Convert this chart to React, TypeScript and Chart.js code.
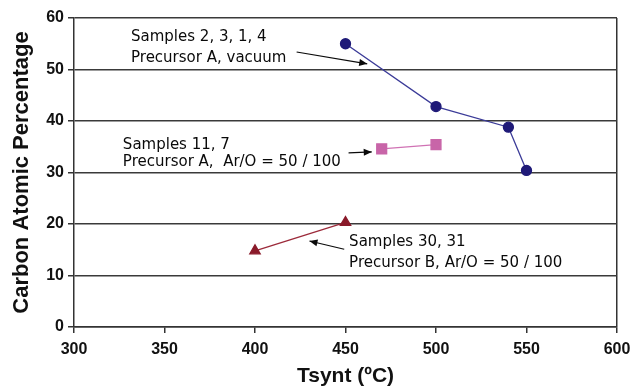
import React, { useEffect, useRef } from "react";
import { Chart, registerables } from "chart.js";

Chart.register(...registerables);

const xTicks = [300, 350, 400, 450, 500, 550, 600];
const yTicks = [0, 10, 20, 30, 40, 50, 60];

const vacuumX = [450, 500, 540, 550];
const vacuumY = [55, 42.8, 38.8, 30.4];
const arOX = [470, 500];
const arOY = [34.6, 35.4];
const precBX = [400, 450];
const precBY = [14.8, 20.3];

const labels1 = ["Samples 2, 3, 1, 4", "Precursor A, vacuum"];
const labels2 = ["Samples 11, 7", "Precursor A,  Ar/O = 50 / 100"];
const labels3 = ["Samples 30, 31", "Precursor B, Ar/O = 50 / 100"];

// annotation anchors in data coordinates
const notes = [
  { lines: labels1, x: 331.5, y1: 56.3, y2: 52.2, from: [423, 53.4], to: [462, 51.1] },
  { lines: labels2, x: 327, y1: 35.3, y2: 32.0, from: [451.7, 33.8], to: [464.5, 34.0] },
  { lines: labels3, x: 452, y1: 16.5, y2: 12.4, from: [449.3, 15.1], to: [430.1, 16.7] },
];

const toPts = (xs: number[], ys: number[]) => xs.map((x, i) => ({ x, y: ys[i] }));

const tickFont = { family: "'Liberation Sans', Arial", size: 16, weight: "bold" };

const annotationPlugin = {
  id: "notes",
  afterDatasetsDraw(chart: any) {
    const { ctx, scales } = chart;
    const xs = scales.x;
    const ys = scales.y;
    ctx.save();
    ctx.fillStyle = "#0a0a0a";
    ctx.strokeStyle = "#0a0a0a";
    ctx.font = "500 15px 'DejaVu Sans'";
    ctx.textBaseline = "middle";
    ctx.textAlign = "left";
    notes.forEach((n) => {
      const px = xs.getPixelForValue(n.x);
      ctx.fillText(n.lines[0], px, ys.getPixelForValue(n.y1));
      ctx.fillText(n.lines[1], px, ys.getPixelForValue(n.y2));
      const x0 = xs.getPixelForValue(n.from[0]);
      const y0 = ys.getPixelForValue(n.from[1]);
      const x1 = xs.getPixelForValue(n.to[0]);
      const y1 = ys.getPixelForValue(n.to[1]);
      ctx.lineWidth = 1.2;
      ctx.beginPath();
      ctx.moveTo(x0, y0);
      ctx.lineTo(x1, y1);
      ctx.stroke();
      const ang = Math.atan2(y1 - y0, x1 - x0);
      const L = 8, W = 3.5;
      ctx.beginPath();
      ctx.moveTo(x1, y1);
      ctx.lineTo(x1 - L * Math.cos(ang) + W * Math.sin(ang), y1 - L * Math.sin(ang) - W * Math.cos(ang));
      ctx.lineTo(x1 - L * Math.cos(ang) - W * Math.sin(ang), y1 - L * Math.sin(ang) + W * Math.cos(ang));
      ctx.closePath();
      ctx.fill();
    });
    ctx.restore();
  },
};

export default function App() {
  const ref = useRef<HTMLCanvasElement | null>(null);
  useEffect(() => {
    document.body.style.margin = "0";
    const chart = new Chart(ref.current!, {
      type: "scatter",
      data: {
        datasets: [
          {
            data: toPts(vacuumX, vacuumY),
            showLine: true,
            borderColor: "#3b3b98",
            borderWidth: 1.3,
            backgroundColor: "#1f1a78",
            pointBorderColor: "#1f1a78",
            pointStyle: "circle",
            pointRadius: 5,
          },
          {
            data: toPts(arOX, arOY),
            showLine: true,
            borderColor: "#d072b4",
            borderWidth: 1.3,
            backgroundColor: "#c865a8",
            pointBorderColor: "#c865a8",
            pointStyle: "rect",
            pointRadius: 7,
          },
          {
            data: toPts(precBX, precBY),
            showLine: true,
            borderColor: "#9c2a3a",
            borderWidth: 1.3,
            backgroundColor: "#8a1a2a",
            pointBorderColor: "#8a1a2a",
            pointStyle: "triangle",
            pointRadius: 6,
          },
        ],
      },
      options: {
        animation: false,
        responsive: false,
        layout: { padding: { top: 18, right: 15, left: 0, bottom: 0 } },
        plugins: { legend: { display: false }, tooltip: { enabled: false } },
        scales: {
          x: {
            type: "linear",
            min: 300,
            max: 600,
            afterBuildTicks: (s: any) => {
              s.ticks = xTicks.map((v) => ({ value: v }));
            },
            afterFit: (s: any) => {
              s.height = 62;
              s.paddingRight = 0;
              s.paddingLeft = 0;
            },
            ticks: {
              color: "#111",
              font: tickFont,
              padding: 7,
            },
            grid: {
              drawOnChartArea: true,
              color: (c: any) => (c.tick && c.tick.value === 600 ? "#333" : "rgba(0,0,0,0)"),
              tickColor: "#333",
              tickLength: 6,
              lineWidth: 1.5,
            },
            border: { color: "#333", width: 1.5 },
            title: {
              display: true,
              text: "Tsynt (ºC)",
              color: "#111",
              font: { family: "'Liberation Sans', Arial", size: 21, weight: "bold" },
              padding: { top: 2, bottom: 0 },
            },
          },
          y: {
            min: 0,
            max: 60,
            afterBuildTicks: (s: any) => {
              s.ticks = yTicks.map((v) => ({ value: v }));
            },
            afterFit: (s: any) => {
              s.width = 74;
            },
            ticks: {
              color: "#111",
              font: tickFont,
              padding: 4,
            },
            grid: {
              color: "#3a3a3a",
              tickColor: "#333",
              tickLength: 6,
              lineWidth: 1.5,
            },
            border: { color: "#333", width: 1.5 },
            title: {
              display: true,
              text: "Carbon Atomic Percentage",
              color: "#111",
              font: { family: "'Liberation Sans', Arial", size: 22, weight: "bold" },
              padding: { top: 9, bottom: 4 },
            },
          },
        },
      },
      plugins: [annotationPlugin],
    } as any);
    return () => chart.destroy();
  }, []);
  return (
    <div style={{ width: 632, height: 389, background: "#fff" }}>
      <canvas ref={ref} width={632} height={389} style={{ display: "block" }} />
    </div>
  );
}
